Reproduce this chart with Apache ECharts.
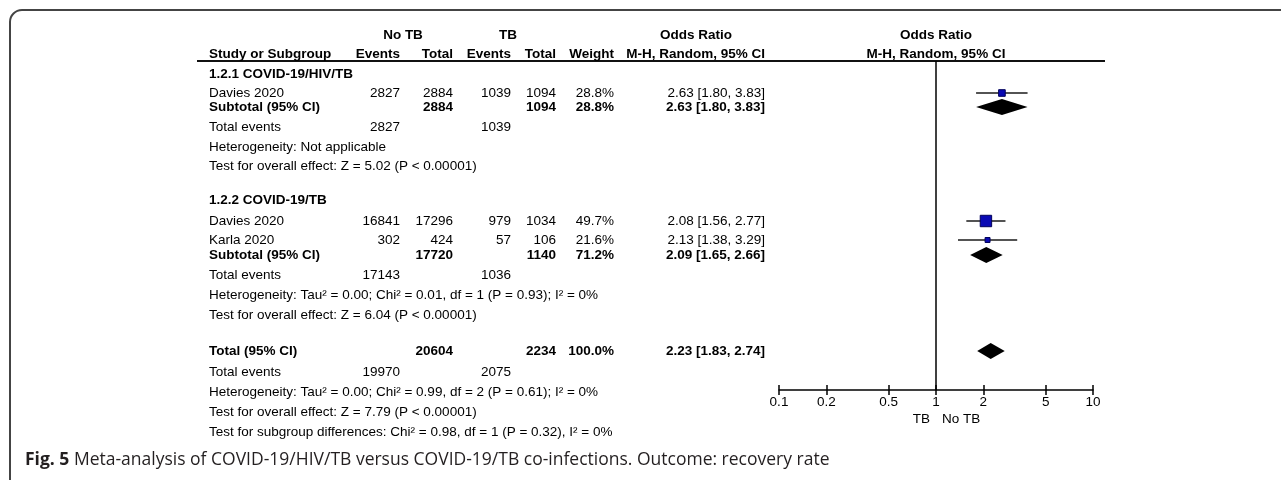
<!DOCTYPE html>
<html>
<head>
<meta charset="utf-8">
<script src="https://cdn.jsdelivr.net/npm/echarts@6/dist/echarts.min.js"></script>
<style>
  body { margin: 0; background: #fff; }
  #chart { width: 1281px; height: 480px; }
</style>
</head>
<body>
<div id="chart"></div>
<script>
// ---- data ----
const subgroupNames = ['1.2.1 COVID-19/HIV/TB', '1.2.2 COVID-19/TB'];
const studyNames = ['Davies 2020', 'Davies 2020', 'Karla 2020'];
const studyGroup = [0, 1, 1];
const noTbEvents = [2827, 16841, 302];
const noTbTotal = [2884, 17296, 424];
const tbEvents = [1039, 979, 57];
const tbTotal = [1094, 1034, 106];
const studyWeight = [28.8, 49.7, 21.6];
const studyOr = [2.63, 2.08, 2.13];
const studyLow = [1.80, 1.56, 1.38];
const studyHigh = [3.83, 2.77, 3.29];

const subNoTbTotal = [2884, 17720];
const subTbTotal = [1094, 1140];
const subWeight = [28.8, 71.2];
const subOr = [2.63, 2.09];
const subLow = [1.80, 1.65];
const subHigh = [3.83, 2.66];
const subNoTbEvents = [2827, 17143];
const subTbEvents = [1039, 1036];
const subHet = [
  'Heterogeneity: Not applicable',
  'Heterogeneity: Tau² = 0.00; Chi² = 0.01, df = 1 (P = 0.93); I² = 0%'
];
const subTest = [
  'Test for overall effect: Z = 5.02 (P < 0.00001)',
  'Test for overall effect: Z = 6.04 (P < 0.00001)'
];

const totalNoTb = 20604, totalTb = 2234, totalWeight = 100.0;
const totalOr = [2.23, 1.83, 2.74];
const totalNoTbEvents = 19970, totalTbEvents = 2075;
const totalHet = 'Heterogeneity: Tau² = 0.00; Chi² = 0.99, df = 2 (P = 0.61); I² = 0%';
const totalTest = 'Test for overall effect: Z = 7.79 (P < 0.00001)';
const diffTest = 'Test for subgroup differences: Chi² = 0.98, df = 1 (P = 0.32), I² = 0%';

const tickValues = [0.1, 0.2, 0.5, 1, 2, 5, 10];
const tickLabels = ['0.1', '0.2', '0.5', '1', '2', '5', '10'];
const caption = 'Meta-analysis of COVID-19/HIV/TB versus COVID-19/TB co-infections. Outcome: recovery rate';

// ---- layout ----
const col = { label: 209, neE: 400, neT: 453, tbE: 511, tbT: 556, w: 614, or: 765, plot: 936 };
const groupRows = [
  { head: 74, studies: [93], sub: 107, events: 127, het: 147, test: 166 },
  { head: 200, studies: [221, 240], sub: 255, events: 275, het: 295, test: 315 }
];
const totalRows = { total: 351, events: 372, het: 392, test: 412, diff: 432 };
const FONT = 'Arial, "Liberation Sans", sans-serif';
const FS = 13.5;

const fmtOr = (v, l, h) => v.toFixed(2) + ' [' + l.toFixed(2) + ', ' + h.toFixed(2) + ']';
const fmtW = w => w.toFixed(1) + '%';

const texts = [];
function t(text, x, y, align, bold) {
  texts.push({
    type: 'text', silent: true,
    style: {
      text: String(text), x: x, y: y, align: align || 'left', verticalAlign: 'middle',
      fill: '#000', font: (bold ? 'bold ' : '') + FS + 'px ' + FONT
    }
  });
}

// header
t('No TB', 403, 35, 'center', true);
t('TB', 508, 35, 'center', true);
t('Odds Ratio', 696, 35, 'center', true);
t('Odds Ratio', col.plot, 35, 'center', true);
t('Study or Subgroup', col.label, 54, 'left', true);
t('Events', col.neE, 54, 'right', true);
t('Total', col.neT, 54, 'right', true);
t('Events', col.tbE, 54, 'right', true);
t('Total', col.tbT, 54, 'right', true);
t('Weight', col.w, 54, 'right', true);
t('M-H, Random, 95% CI', col.or, 54, 'right', true);
t('M-H, Random, 95% CI', col.plot, 54, 'center', true);

const studyPts = [];
const diamondPts = [];
subgroupNames.forEach((name, g) => {
  const r = groupRows[g];
  t(name, col.label, r.head, 'left', true);
  let k = 0;
  studyNames.forEach((s, i) => {
    if (studyGroup[i] !== g) return;
    const y = r.studies[k++];
    t(s, col.label, y);
    t(noTbEvents[i], col.neE, y, 'right');
    t(noTbTotal[i], col.neT, y, 'right');
    t(tbEvents[i], col.tbE, y, 'right');
    t(tbTotal[i], col.tbT, y, 'right');
    t(fmtW(studyWeight[i]), col.w, y, 'right');
    t(fmtOr(studyOr[i], studyLow[i], studyHigh[i]), col.or, y, 'right');
    studyPts.push([studyLow[i], studyHigh[i], studyOr[i], y, studyWeight[i]]);
  });
  t('Subtotal (95% CI)', col.label, r.sub, 'left', true);
  t(subNoTbTotal[g], col.neT, r.sub, 'right', true);
  t(subTbTotal[g], col.tbT, r.sub, 'right', true);
  t(fmtW(subWeight[g]), col.w, r.sub, 'right', true);
  t(fmtOr(subOr[g], subLow[g], subHigh[g]), col.or, r.sub, 'right', true);
  diamondPts.push([subLow[g], subHigh[g], subOr[g], r.sub]);
  t('Total events', col.label, r.events);
  t(subNoTbEvents[g], col.neE, r.events, 'right');
  t(subTbEvents[g], col.tbE, r.events, 'right');
  t(subHet[g], col.label, r.het);
  t(subTest[g], col.label, r.test);
});

t('Total (95% CI)', col.label, totalRows.total, 'left', true);
t(totalNoTb, col.neT, totalRows.total, 'right', true);
t(totalTb, col.tbT, totalRows.total, 'right', true);
t(fmtW(totalWeight), col.w, totalRows.total, 'right', true);
t(fmtOr(totalOr[0], totalOr[1], totalOr[2]), col.or, totalRows.total, 'right', true);
diamondPts.push([totalOr[1], totalOr[2], totalOr[0], totalRows.total]);
t('Total events', col.label, totalRows.events);
t(totalNoTbEvents, col.neE, totalRows.events, 'right');
t(totalTbEvents, col.tbE, totalRows.events, 'right');
t(totalHet, col.label, totalRows.het);
t(totalTest, col.label, totalRows.test);
t(diffTest, col.label, totalRows.diff);

t('TB', 930, 419, 'right');
t('No TB', 942, 419, 'left');

const chart = echarts.init(document.getElementById('chart'));

const axisBase = {
  type: 'log', logBase: 10, min: 0.1, max: 10, gridIndex: 0, position: 'bottom',
  splitLine: { show: false }
};

chart.setOption({
  animation: false,
  backgroundColor: '#fff',
  grid: { left: 779, width: 314, top: 61, height: 329 },
  xAxis: [
    Object.assign({}, axisBase, {
      axisLine: { show: true, lineStyle: { color: '#000', width: 1.5 } },
      axisTick: { show: true, inside: false, length: 5, customValues: tickValues, lineStyle: { color: '#000', width: 1.5 } },
      axisLabel: {
        show: true, customValues: tickValues, margin: 5, color: '#000',
        fontFamily: FONT, fontSize: FS,
        formatter: v => tickLabels[tickValues.indexOf(+v)] || String(v)
      }
    }),
    Object.assign({}, axisBase, {
      axisLine: { show: false },
      axisTick: { show: true, inside: true, length: 5, customValues: tickValues, lineStyle: { color: '#000', width: 1.5 } },
      axisLabel: { show: false }
    })
  ],
  yAxis: { type: 'value', min: 61, max: 390, inverse: true, show: false },
  graphic: [
    {
      type: 'rect', silent: true,
      shape: { x: 10, y: 10, width: 1400, height: 600, r: 12 },
      style: { fill: 'none', stroke: '#444', lineWidth: 2 }
    },
    {
      type: 'line', silent: true,
      shape: { x1: 197, y1: 61, x2: 1105, y2: 61 },
      style: { stroke: '#111', lineWidth: 2 }
    },
    {
      type: 'text', silent: true,
      style: {
        text: '{b|Fig. 5} ' + caption, x: 25, y: 460, verticalAlign: 'middle',
        fill: '#231f20', font: '17.5px "Open Sans", sans-serif',
        rich: { b: { fontWeight: 'bold', fontSize: 17.5, fontFamily: '"Open Sans", sans-serif', fill: '#231f20' } }
      }
    }
  ].concat(texts),
  series: [
    {
      type: 'custom', name: 'studies', xAxisIndex: 0,
      data: studyPts,
      encode: { x: [0, 1, 2], y: 3 },
      renderItem: (params, api) => {
        const y = api.value(3);
        const lo = api.coord([api.value(0), y]);
        const hi = api.coord([api.value(1), y]);
        const c = api.coord([api.value(2), y]);
        const s = api.value(4) * 0.23;
        return {
          type: 'group',
          children: [
            { type: 'line', shape: { x1: lo[0], y1: lo[1], x2: hi[0], y2: hi[1] }, style: { stroke: '#1a1a1a', lineWidth: 1.5 } },
            { type: 'rect', shape: { x: c[0] - s / 2, y: c[1] - s / 2, width: s, height: s }, style: { fill: '#0a0ab4', stroke: '#00005a', lineWidth: 1 } }
          ]
        };
      }
    },
    {
      type: 'custom', name: 'pooled', xAxisIndex: 0,
      data: diamondPts,
      encode: { x: [0, 1, 2], y: 3 },
      renderItem: (params, api) => {
        const y = api.value(3);
        const lo = api.coord([api.value(0), y]);
        const hi = api.coord([api.value(1), y]);
        const c = api.coord([api.value(2), y]);
        const h = 8;
        return {
          type: 'polygon',
          shape: { points: [[lo[0], lo[1]], [c[0], c[1] - h], [hi[0], hi[1]], [c[0], c[1] + h]] },
          style: { fill: '#000' }
        };
      },
      markLine: {
        silent: true, symbol: 'none', animation: false,
        label: { show: false },
        lineStyle: { color: '#000', width: 1.5, type: 'solid' },
        data: [{ xAxis: 1 }]
      }
    }
  ]
});
</script>
</body>
</html>
